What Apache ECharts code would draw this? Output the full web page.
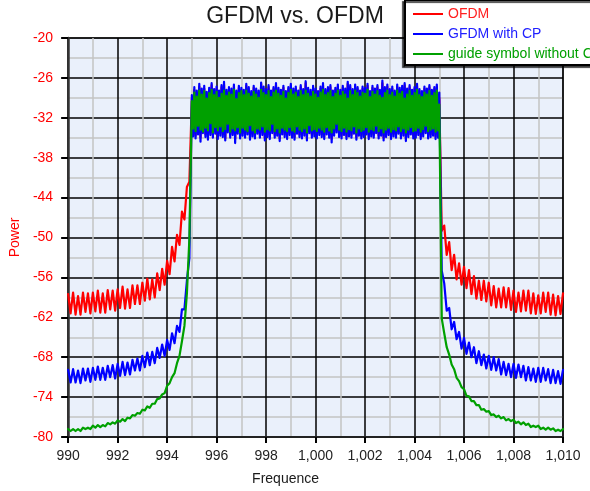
<!DOCTYPE html>
<html>
<head>
<meta charset="utf-8">
<script src="https://cdn.jsdelivr.net/npm/echarts@6/dist/echarts.min.js"></script>
<style>html,body{margin:0;padding:0;background:#fff;}#c{width:590px;height:491px;}</style>
</head>
<body>
<div id="c"></div>
<script>
// Sampling grids of the spectrum (frequency axis)
// skirts: 990.0..994.9 and 1005.1..1010.0 every 0.1; pass band: 995.00..1005.00 every 0.05
const leftStart = 990, skirtStep = 0.1;
const bandStart = 995, bandStep = 0.05;
const rightStart = 1005.1;

const xTicks = [990, 992, 994, 996, 998, 1000, 1002, 1004, 1006, 1008, 1010];
const yTicks = [-80, -74, -68, -62, -56, -50, -44, -38, -32, -26, -20];

const seriesNames = ['OFDM', 'GFDM with CP', 'guide symbol without CP'];

// OFDM (red)
const ofdmLeft = [-58.5,-61.4,-58.3,-61.6,-58.8,-61.6,-58.3,-61.2,-58.4,-61.4,
  -58.3,-61.1,-58.0,-61.3,-58.4,-61.3,-57.9,-60.8,-58.0,-61.0,
  -57.8,-60.6,-57.4,-60.7,-57.8,-60.6,-57.2,-60.0,-57.2,-60.0,
  -56.8,-59.5,-56.2,-59.3,-56.3,-59.0,-55.4,-57.9,-54.7,-57.1,
  -53.5,-55.5,-51.4,-53.6,-49.6,-51.1,-46.1,-47.3,-42.4,-41.6];
const ofdmBand = [
  -29.2,-34.4,-27.8,-34.7,-28.2,-34.1,-27.3,-35.0,-27.9,-34.0,-27.6,-34.5,-28.3,-34.9,-27.8,-34.2,-27.1,-34.6,-28.0,-34.1,
  -27.6,-34.8,-28.2,-34.3,-27.4,-34.5,-27.0,-35.1,-28.1,-33.9,-27.7,-34.6,-27.9,-34.2,-27.3,-35.2,-28.2,-34.0,-27.5,-34.7,
  -27.8,-34.3,-28.1,-34.6,-27.2,-34.1,-27.7,-34.9,-28.3,-34.4,-27.5,-34.7,-27.9,-34.0,-28.2,-34.6,-26.9,-34.2,-27.6,-35.0,
  -28.0,-34.5,-27.4,-34.8,-28.2,-33.9,-27.7,-34.6,-27.1,-34.3,-27.8,-35.1,-28.1,-34.1,-27.5,-34.5,-28.3,-34.8,-27.7,-34.2,
  -27.2,-34.6,-27.9,-34.9,-27.6,-34.0,-28.2,-34.5,-27.4,-34.7,-28.0,-34.3,-26.8,-35.0,-27.8,-33.9,-28.1,-34.6,-27.5,-34.4,
  -27.9,-34.7,-28.3,-34.2,-27.6,-34.5,-27.1,-34.8,-28.0,-34.1,-27.7,-34.6,-27.4,-35.2,-28.2,-34.3,-27.8,-33.9,-27.3,-34.5,
  -28.1,-34.7,-27.5,-34.2,-27.9,-34.8,-26.9,-34.4,-27.4,-34.6,-28.0,-34.0,-27.3,-34.9,-27.7,-34.3,-28.2,-34.7,-27.6,-34.5,
  -27.8,-34.1,-27.2,-34.8,-28.3,-34.4,-27.5,-34.6,-27.9,-33.9,-27.4,-34.7,-28.1,-34.3,-26.8,-35.0,-27.7,-34.5,-27.3,-34.2,
  -28.0,-34.8,-27.6,-34.4,-28.2,-34.6,-27.3,-34.0,-27.8,-34.7,-27.5,-34.3,-27.1,-35.1,-27.9,-34.5,-27.4,-34.1,-28.1,-34.7,
  -27.7,-34.6,-27.2,-34.2,-28.0,-34.8,-28.3,-34.4,-27.6,-33.9,-27.9,-34.7,-27.4,-34.5,-28.1,-34.3,-27.7,-34.8,-27.3,-34.6,
  -29.0];
const ofdmRight = [-49.0,-48.2,-52.6,-50.7,-54.9,-52.6,-56.3,-53.9,-57.1,-54.4,
  -57.6,-54.9,-58.5,-55.8,-59.2,-56.5,-59.4,-56.5,-59.6,-56.8,
  -60.2,-57.3,-60.5,-57.7,-60.5,-57.5,-60.5,-57.6,-60.9,-58.0,
  -61.2,-58.3,-61.1,-58.0,-61.0,-58.0,-61.4,-58.4,-61.5,-58.7,
  -61.4,-58.3,-61.2,-58.3,-61.6,-58.6,-61.7,-58.8,-61.5,-58.4];

// GFDM with CP (blue)
const gfdmLeft = [-69.9,-71.8,-69.8,-71.8,-70.0,-71.9,-69.7,-71.5,-69.7,-71.7,
  -69.6,-71.4,-69.4,-71.4,-69.6,-71.4,-69.3,-71.0,-69.2,-71.2,
  -69.0,-70.8,-68.7,-70.7,-68.8,-70.6,-68.4,-70.0,-68.2,-70.0,
  -67.8,-69.5,-67.3,-69.2,-67.2,-68.9,-66.6,-68.1,-66.1,-67.8,
  -65.4,-66.9,-64.4,-65.9,-63.3,-64.2,-60.8,-60.8,-56.5,-53.1];
const gfdmBand = [
  -28.6,-34.8,-27.4,-35.1,-27.9,-34.5,-26.9,-35.6,-27.6,-34.3,-27.2,-34.9,-28.1,-35.3,-27.5,-34.6,-26.8,-35.0,-27.7,-34.4,
  -27.3,-35.2,-27.9,-34.7,-27.1,-34.9,-26.6,-35.4,-27.8,-34.2,-27.4,-35.0,-27.6,-34.6,-27.0,-35.8,-27.9,-34.4,-27.2,-35.1,
  -27.5,-34.7,-27.8,-35.0,-26.9,-34.5,-27.4,-35.3,-28.0,-34.8,-27.2,-35.1,-27.6,-34.4,-27.9,-35.0,-26.7,-34.6,-27.3,-35.4,
  -27.7,-34.9,-27.1,-35.2,-27.9,-34.3,-27.4,-35.0,-26.8,-34.7,-27.5,-35.5,-27.8,-34.5,-27.2,-34.9,-28.0,-35.2,-27.4,-34.6,
  -26.9,-35.0,-27.6,-35.3,-27.3,-34.4,-27.9,-34.9,-27.1,-35.1,-27.7,-34.7,-26.5,-35.4,-27.5,-34.3,-27.8,-35.0,-27.2,-34.8,
  -27.6,-35.1,-28.0,-34.6,-27.3,-34.9,-26.8,-35.2,-27.7,-34.5,-27.4,-35.0,-27.1,-35.7,-27.9,-34.7,-27.5,-34.2,-27.0,-34.9,
  -27.8,-35.1,-27.2,-34.6,-27.6,-35.2,-26.6,-34.8,-27.1,-35.0,-27.7,-34.4,-27.0,-35.3,-27.4,-34.7,-27.9,-35.1,-27.3,-34.9,
  -27.5,-34.5,-26.9,-35.2,-28.0,-34.8,-27.2,-35.0,-27.6,-34.3,-27.1,-35.1,-27.8,-34.7,-26.4,-35.4,-27.4,-34.9,-27.0,-34.6,
  -27.7,-35.2,-27.3,-34.8,-27.9,-35.0,-27.0,-34.4,-27.5,-35.1,-27.2,-34.7,-26.8,-35.5,-27.6,-34.9,-27.1,-34.5,-27.8,-35.1,
  -27.4,-35.0,-26.9,-34.6,-27.7,-35.2,-28.0,-34.8,-27.3,-34.3,-27.6,-35.1,-27.1,-34.9,-27.8,-34.7,-27.4,-35.2,-27.0,-35.0,
  -28.2];
const gfdmRight = [-55.0,-56.9,-61.0,-60.6,-63.8,-62.7,-65.3,-64.2,-66.7,-65.1,
  -67.5,-65.8,-68.0,-66.5,-68.9,-67.1,-69.2,-67.6,-69.7,-67.8,
  -69.9,-68.0,-70.0,-68.3,-70.6,-68.7,-70.7,-69.0,-71.0,-69.0,
  -71.1,-69.1,-71.0,-69.3,-71.5,-69.5,-71.5,-69.7,-71.7,-69.6,
  -71.7,-69.6,-71.5,-69.8,-71.9,-69.9,-71.9,-70.1,-72.0,-69.9];

// guide symbol without CP (green)
const guideLeft = [-78.8,-79.1,-78.8,-79.1,-78.8,-79.1,-78.6,-78.8,-78.6,-78.8,
  -78.3,-78.6,-78.2,-78.5,-78.2,-78.4,-77.9,-78.1,-77.8,-78.0,
  -77.5,-77.7,-77.3,-77.6,-77.1,-77.2,-76.7,-76.8,-76.4,-76.5,
  -75.9,-76.0,-75.4,-75.6,-75.0,-75.0,-74.3,-74.2,-73.6,-73.4,
  -72.3,-71.9,-71.0,-70.4,-68.9,-67.8,-65.6,-63.3,-58.4,-50.2];
const guideBand = [
  -29.5,-33.6,-28.2,-34.0,-28.8,-33.2,-27.9,-33.8,-28.5,-34.1,-28.0,-33.5,-29.1,-33.9,-28.3,-32.8,-27.8,-34.2,-28.6,-33.4,
  -28.1,-33.9,-29.0,-33.3,-28.4,-34.0,-27.9,-33.7,-28.7,-32.9,-28.2,-34.1,-28.5,-33.6,-27.8,-33.9,-29.2,-33.4,-28.3,-34.2,
  -28.0,-33.5,-28.6,-33.8,-27.9,-34.0,-28.4,-33.1,-28.8,-33.9,-28.1,-34.2,-28.5,-33.6,-29.0,-33.8,-27.8,-33.3,-28.3,-34.1,
  -28.6,-33.7,-28.0,-33.9,-28.9,-32.9,-28.2,-34.0,-27.9,-33.6,-28.4,-34.2,-28.7,-33.5,-28.1,-33.8,-29.1,-34.0,-28.3,-33.4,
  -27.8,-33.9,-28.5,-34.1,-28.2,-33.3,-28.9,-33.8,-28.0,-34.0,-28.6,-33.6,-27.9,-34.2,-28.4,-33.1,-28.8,-33.9,-28.1,-33.7,
  -28.5,-34.0,-29.0,-33.5,-28.2,-33.8,-27.8,-34.1,-28.6,-33.4,-28.3,-33.9,-28.0,-34.2,-28.9,-33.6,-28.4,-32.9,-27.9,-33.8,
  -28.7,-34.0,-28.1,-33.5,-28.5,-34.1,-29.1,-33.7,-28.0,-33.9,-28.6,-33.3,-27.9,-34.2,-28.3,-33.6,-28.8,-34.0,-28.2,-33.8,
  -28.4,-33.4,-27.8,-34.1,-28.9,-33.7,-28.1,-33.9,-28.5,-33.2,-28.0,-34.0,-28.7,-33.6,-29.0,-34.2,-28.3,-33.8,-27.9,-33.5,
  -28.6,-34.1,-28.2,-33.7,-28.8,-33.9,-27.9,-33.3,-28.4,-34.0,-28.1,-33.6,-29.1,-34.2,-28.5,-33.8,-28.0,-33.4,-28.7,-34.0,
  -28.3,-33.9,-27.8,-33.5,-28.6,-34.1,-28.9,-33.7,-28.2,-33.2,-28.5,-34.0,-28.0,-33.8,-28.7,-33.6,-28.3,-34.1,-27.9,-33.9,
  -30.0];
const guideRight = [-62.2,-64.4,-66.5,-67.6,-69.1,-69.8,-71.1,-71.6,-72.5,-72.8,
  -73.8,-73.9,-74.6,-74.6,-75.2,-75.2,-75.9,-75.8,-76.2,-76.1,
  -76.7,-76.6,-77.0,-76.8,-77.2,-77.0,-77.5,-77.3,-77.6,-77.4,
  -77.9,-77.7,-78.1,-77.8,-78.2,-78.0,-78.5,-78.3,-78.5,-78.3,
  -78.8,-78.6,-78.9,-78.6,-78.9,-78.7,-79.1,-78.9,-79.1,-78.8];

function buildPairs(left, band, right) {
  const out = [];
  left.forEach((v, i) => out.push([+(leftStart + i * skirtStep).toFixed(2), v]));
  band.forEach((v, i) => out.push([+(bandStart + i * bandStep).toFixed(2), v]));
  right.forEach((v, i) => out.push([+(rightStart + i * skirtStep).toFixed(2), v]));
  return out;
}

const colors = ['#ff0000', '#0000ff', '#00a000'];
const legendTextColors = ['#ff2020', '#2020ff', '#00a000'];
const FONT = '"Liberation Sans", Arial, sans-serif';

const chart = echarts.init(document.getElementById('c'), null, {renderer: 'canvas'});
chart.setOption({
  animation: false,
  backgroundColor: '#ffffff',
  textStyle: {fontFamily: FONT},
  title: {
    text: 'GFDM vs. OFDM',
    left: 'center',
    top: 0,
    padding: [5, 10, 0, 0],
    textStyle: {fontSize: 23, fontWeight: 'normal', color: '#1a1a1a', fontFamily: FONT}
  },
  legend: {
    orient: 'vertical',
    left: 405,
    top: 0,
    itemWidth: 30,
    itemHeight: 2,
    itemGap: 6,
    padding: [7, 10, 4, 8],
    backgroundColor: '#ffffff',
    borderColor: '#000',
    borderWidth: 2,
    shadowColor: 'rgba(0,0,0,0.7)',
    shadowOffsetX: -2,
    shadowOffsetY: 2,
    shadowBlur: 1,
    icon: 'rect',
    data: seriesNames.map((n, i) => ({name: n, textStyle: {color: legendTextColors[i]}})),
    textStyle: {fontSize: 14, fontFamily: FONT}
  },
  grid: {
    left: 62, right: 27, top: 38, bottom: 54,
    show: true,
    backgroundColor: '#eaf0fb',
    borderColor: '#000',
    borderWidth: 1
  },
  xAxis: {
    type: 'value',
    min: xTicks[0],
    max: xTicks[xTicks.length - 1],
    interval: 2,
    name: 'Frequence',
    nameLocation: 'middle',
    nameGap: 35,
    nameTextStyle: {fontSize: 14, color: '#1a1a1a', padding: [0, 60, 0, 0]},
    axisLine: {show: true, onZero: false, lineStyle: {color: '#222', width: 2}},
    axisTick: {show: true, length: 6, lineStyle: {color: '#000', width: 2}},
    axisLabel: {fontSize: 14, color: '#222', margin: 12},
    splitLine: {show: true, lineStyle: {color: '#000', width: 1.5}},
    minorTick: {show: false, splitNumber: 2},
    minorSplitLine: {show: true, lineStyle: {color: '#c4c4c4', width: 1.5}}
  },
  yAxis: {
    type: 'value',
    min: yTicks[0],
    max: yTicks[yTicks.length - 1],
    interval: 6,
    name: 'Power',
    nameLocation: 'middle',
    nameGap: 44,
    nameTextStyle: {fontSize: 14, color: '#ff0000'},
    axisLine: {show: true, onZero: false, lineStyle: {color: '#333', width: 2.5}},
    axisTick: {show: true, length: 7, lineStyle: {color: '#000', width: 2}},
    axisLabel: {fontSize: 14, color: '#ff0000', margin: 15},
    splitLine: {show: true, lineStyle: {color: '#000', width: 1.5}},
    minorTick: {show: false, splitNumber: 2},
    minorSplitLine: {show: true, lineStyle: {color: '#c4c4c4', width: 1.5}}
  },
  series: [
    {name: seriesNames[0], type: 'line', data: buildPairs(ofdmLeft, ofdmBand, ofdmRight)},
    {name: seriesNames[1], type: 'line', data: buildPairs(gfdmLeft, gfdmBand, gfdmRight)},
    {name: seriesNames[2], type: 'line', data: buildPairs(guideLeft, guideBand, guideRight)}
  ].map((s, i) => Object.assign(s, {
    showSymbol: false,
    symbol: 'none',
    color: colors[i],
    lineStyle: {color: colors[i], width: 2.2, join: 'round', cap: 'round'},
    emphasis: {disabled: true}
  }))
});
</script>
</body>
</html>
